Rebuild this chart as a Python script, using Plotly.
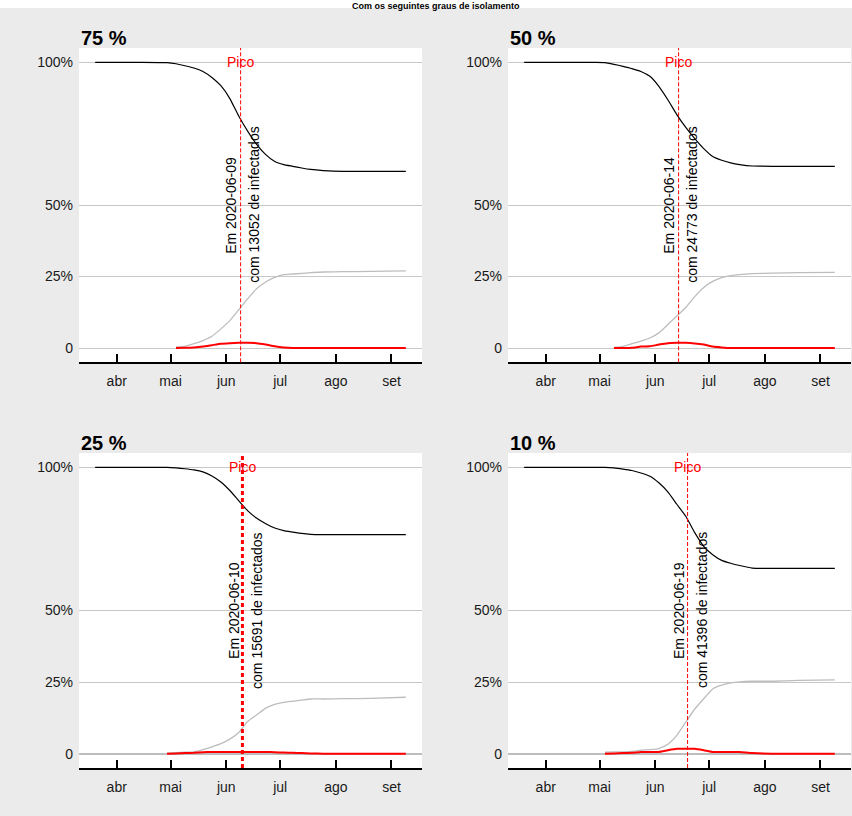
import plotly.graph_objects as go

# ---------------- data ----------------
dates = ["2020-03-20", "2020-04-15", "2020-04-29", "2020-05-04", "2020-05-09",
         "2020-05-14", "2020-05-19", "2020-05-24", "2020-05-29", "2020-06-03",
         "2020-06-08", "2020-06-13", "2020-06-18", "2020-06-23", "2020-06-28",
         "2020-07-03", "2020-07-08", "2020-07-13", "2020-07-18", "2020-07-25",
         "2020-08-05", "2020-08-20", "2020-09-09"]

# 75 %
S75 = [1.0, 1.0, 0.999, 0.995, 0.988, 0.980, 0.968, 0.947, 0.918, 0.873, 0.811, 0.758,
       0.712, 0.677, 0.653, 0.642, 0.636, 0.630, 0.625, 0.621, 0.618, 0.618, 0.618]
R75 = [None, None, None, 0.004, 0.006, 0.015, 0.026, 0.041, 0.067, 0.096, 0.134, 0.173,
       0.208, 0.231, 0.247, 0.257, 0.259, 0.261, 0.264, 0.266, 0.267, 0.268, 0.270]
I75 = [None, None, None, 0.0, 0.001, 0.002, 0.005, 0.010, 0.015, 0.017, 0.018, 0.018,
       0.017, 0.012, 0.006, 0.002, 0.0, 0.0, 0.0, 0.0, 0.0, 0.0, 0.0]

# 50 %
S50 = [1.0, 1.0, 1.0, 0.999, 0.993, 0.986, 0.978, 0.968, 0.951, 0.916, 0.869, 0.817,
       0.772, 0.733, 0.698, 0.670, 0.657, 0.648, 0.642, 0.637, 0.636, 0.636, 0.636]
R50 = [None, None, None, None, 0.002, 0.006, 0.015, 0.024, 0.035, 0.053, 0.082, 0.112,
       0.142, 0.180, 0.212, 0.233, 0.246, 0.253, 0.257, 0.260, 0.262, 0.264, 0.265]
I50 = [None, None, None, None, 0.0, 0.0, 0.001, 0.005, 0.006, 0.012, 0.017, 0.018,
       0.018, 0.016, 0.012, 0.005, 0.002, 0.0, 0.0, 0.0, 0.0, 0.0, 0.0]

# 25 %
S25 = [1.0, 1.0, 1.0, 0.998, 0.995, 0.991, 0.984, 0.970, 0.949, 0.919, 0.883, 0.848,
       0.822, 0.803, 0.788, 0.779, 0.774, 0.769, 0.766, 0.765, 0.765, 0.765, 0.765]
R25 = [None, None, 0.002, 0.004, 0.005, 0.006, 0.014, 0.024, 0.035, 0.051, 0.074, 0.113,
       0.136, 0.159, 0.172, 0.179, 0.183, 0.187, 0.191, 0.191, 0.192, 0.193, 0.197]
I25 = [None, None, 0.0, 0.001, 0.002, 0.003, 0.005, 0.006, 0.006, 0.006, 0.006, 0.006,
       0.006, 0.006, 0.005, 0.004, 0.003, 0.002, 0.001, 0.0, 0.0, 0.0, 0.0]

# 10 %
S10 = [1.0, 1.0, 1.0, 1.0, 0.998, 0.994, 0.989, 0.980, 0.969, 0.946, 0.914, 0.871,
       0.829, 0.772, 0.724, 0.695, 0.675, 0.665, 0.657, 0.648, 0.647, 0.647, 0.647]
R10 = [None, None, None, 0.005, 0.006, 0.006, 0.008, 0.012, 0.014, 0.018, 0.033, 0.064,
       0.110, 0.156, 0.192, 0.226, 0.239, 0.247, 0.251, 0.253, 0.253, 0.256, 0.258]
I10 = [None, None, None, 0.0, 0.001, 0.002, 0.003, 0.006, 0.006, 0.006, 0.012, 0.017,
       0.017, 0.017, 0.012, 0.006, 0.006, 0.006, 0.006, 0.002, 0.0, 0.0, 0.0]

panel_titles = ["75 %", "50 %", "25 %", "10 %"]
peak_dates = ["2020-06-09", "2020-06-14", "2020-06-10", "2020-06-19"]
peak_counts = ["13052", "24773", "15691", "41396"]

month_ticks = ["2020-04-01", "2020-05-01", "2020-06-01", "2020-07-01", "2020-08-01", "2020-09-01"]
month_labels = ["abr", "mai", "jun", "jul", "ago", "set"]
y_ticks = [0, 0.25, 0.5, 1.0]
y_labels = ["0", "25%", "50%", "100%"]

title_text = "Com os seguintes graus de isolamento"

# ---------------- layout geometry ----------------
W, H = 852, 816
FONT = "Liberation Sans, Arial, sans-serif"

def px_x(v):
    return v / W

def px_y(v):
    return 1 - v / H

panels = [
    dict(S=S75, R=R75, I=I75, xd=(79, 422), yd=(48, 362.3), dash="4px,2px", lw=1, zero=False),
    dict(S=S50, R=R50, I=I50, xd=(508, 851), yd=(48, 362.3), dash="4px,2px", lw=1, zero=False),
    dict(S=S25, R=R25, I=I25, xd=(79, 422), yd=(453, 768), dash="4px,3px", lw=3, zero=True),
    dict(S=S10, R=R10, I=I10, xd=(508, 851), yd=(453, 768), dash="4px,2px", lw=1, zero=True),
]

fig = go.Figure()
annotations = []
shapes = []
layout_axes = {}

for k, p in enumerate(panels, start=1):
    sfx = "" if k == 1 else str(k)
    xref, yref = "x" + sfx, "y" + sfx
    for series, color, width in ((p["S"], "#000000", 1.2),
                                 (p["R"], "#BDBDBD", 1.3),
                                 (p["I"], "#FF0000", 2)):
        fig.add_trace(go.Scatter(x=dates, y=series, mode="lines",
                                 line=dict(color=color, width=width, shape="spline", smoothing=0.4),
                                 xaxis=xref, yaxis=yref, showlegend=False, hoverinfo="skip"))

    layout_axes["xaxis" + sfx] = dict(
        domain=[px_x(p["xd"][0]), px_x(p["xd"][1])],
        anchor=yref, type="date", range=["2020-03-11", "2020-09-18"],
        tickmode="array", tickvals=month_ticks, ticktext=month_labels,
        ticks="inside", ticklen=8, tickwidth=1.5, tickcolor="#000000",
        showline=True, linecolor="#000000", linewidth=2,
        showgrid=False, zeroline=False, ticklabelstandoff=5,
        tickfont=dict(family=FONT, size=14, color="#1a1a1a"), fixedrange=True)
    layout_axes["yaxis" + sfx] = dict(
        domain=[px_y(p["yd"][1]), px_y(p["yd"][0])],
        anchor=xref, range=[-0.05, 1.05],
        tickmode="array", tickvals=y_ticks, ticktext=y_labels,
        showgrid=True, gridcolor="#C8C8C8", gridwidth=1,
        zeroline=p["zero"], zerolinecolor="#BDBDBD", zerolinewidth=2,
        showline=False, ticks="", ticklabelstandoff=5,
        tickfont=dict(family=FONT, size=14, color="#1a1a1a"), fixedrange=True)

    pk = peak_dates[k - 1]
    shapes.append(dict(type="line", xref=xref, yref=yref + " domain", x0=pk, x1=pk, y0=0, y1=1,
                       line=dict(color="#FF0000", width=p["lw"], dash=p["dash"]), layer="above"))
    annotations.append(dict(xref=xref, yref=yref, x=pk, y=1.0, text="Pico", showarrow=False,
                            xanchor="center", yanchor="middle",
                            font=dict(family=FONT, size=14, color="#FF0000")))
    annotations.append(dict(xref=xref, yref=yref, x=pk, y=0.5, text="Em " + pk, showarrow=False,
                            textangle=-90, xanchor="center", yanchor="middle", xshift=-9,
                            font=dict(family=FONT, size=14, color="#000000")))
    annotations.append(dict(xref=xref, yref=yref, x=pk, y=0.5,
                            text="com " + peak_counts[k - 1] + " de infectados", showarrow=False,
                            textangle=-90, xanchor="center", yanchor="middle", xshift=14,
                            font=dict(family=FONT, size=14, color="#000000")))
    ty = 38 if k <= 2 else 443
    annotations.append(dict(xref="paper", yref="paper", x=px_x(p["xd"][0]), y=px_y(ty),
                            text="<b>" + panel_titles[k - 1] + "</b>", showarrow=False,
                            xanchor="left", yanchor="middle",
                            font=dict(family=FONT, size=20, color="#000000")))

# white strip at the top holding the overall title
shapes.append(dict(type="rect", xref="paper", yref="paper", x0=0, x1=1, y0=px_y(8), y1=1,
                   fillcolor="#FFFFFF", line=dict(width=0), layer="above"))
annotations.append(dict(xref="paper", yref="paper", x=px_x(436), y=1.0,
                        text="<b>" + title_text + "</b>", showarrow=False,
                        xanchor="center", yanchor="top", borderpad=0,
                        font=dict(family=FONT, size=9, color="#000000")))

fig.update_layout(width=W, height=H, margin=dict(l=0, r=0, t=0, b=0),
                  paper_bgcolor="#EBEBEB", plot_bgcolor="#FFFFFF",
                  font=dict(family=FONT, size=14),
                  shapes=shapes, annotations=annotations, **layout_axes)

fig.write_html("out.html", config={"displayModeBar": False})
